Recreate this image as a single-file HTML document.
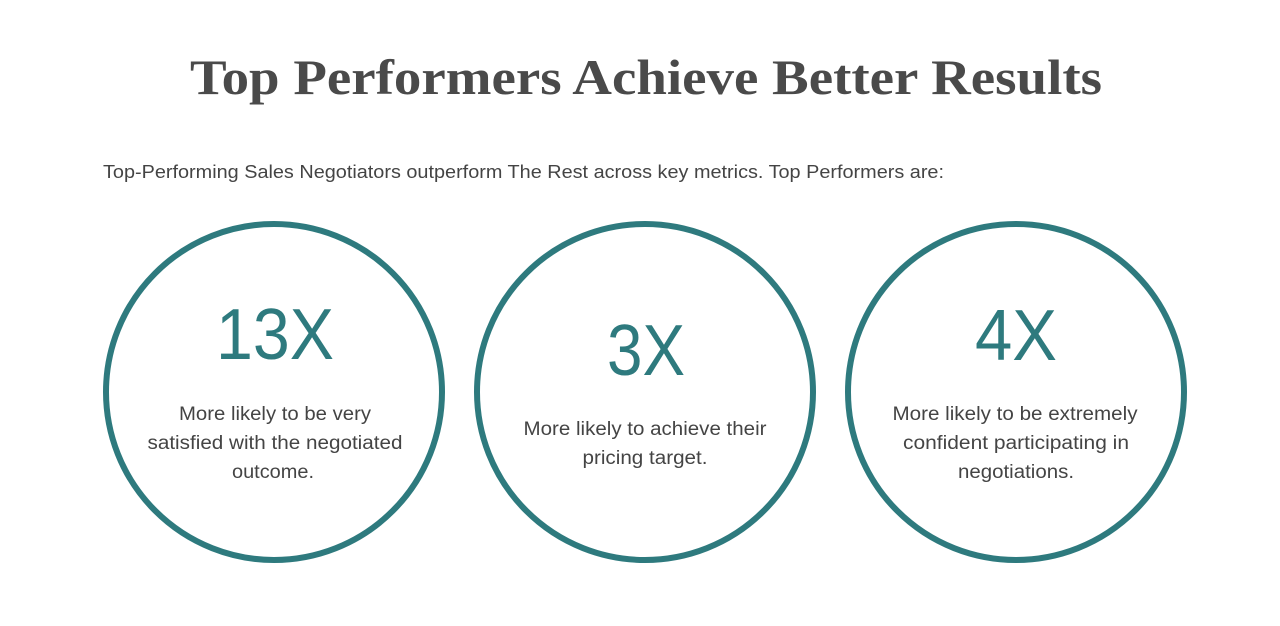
<!DOCTYPE html>
<html><head><style>html,body{margin:0;padding:0;background:#fff;}svg{display:block}</style></head>
<body>
<svg width="1280" height="626" viewBox="0 0 1280 626" xmlns="http://www.w3.org/2000/svg">
<text x="646" y="94" text-anchor="middle" font-family="Liberation Serif, serif" font-weight="bold" font-size="50" fill="#4a4a4a" textLength="912" lengthAdjust="spacingAndGlyphs">Top Performers Achieve Better Results</text>
<text x="103" y="178" font-family="Liberation Sans, sans-serif" font-size="18" fill="#444" textLength="841" lengthAdjust="spacingAndGlyphs">Top-Performing Sales Negotiators outperform The Rest across key metrics. Top Performers are:</text>
<g fill="none" stroke="#2e7a7e" stroke-width="6">
<circle cx="274" cy="392" r="168"/>
<circle cx="645" cy="392" r="168"/>
<circle cx="1016" cy="392" r="168"/>
</g>
<g font-family="Liberation Sans, sans-serif" fill="#2e7a7e" font-size="72" text-anchor="middle">
<text x="275" y="359" textLength="118" lengthAdjust="spacingAndGlyphs">13X</text>
<text x="646" y="375" textLength="78" lengthAdjust="spacingAndGlyphs">3X</text>
<text x="1016" y="360" textLength="82" lengthAdjust="spacingAndGlyphs">4X</text>
</g>
<g font-family="Liberation Sans, sans-serif" fill="#444" font-size="19" text-anchor="middle">
<text x="275" y="420" textLength="192" lengthAdjust="spacingAndGlyphs">More likely to be very</text>
<text x="275" y="449" textLength="255" lengthAdjust="spacingAndGlyphs">satisfied with the negotiated</text>
<text x="273" y="478" textLength="82" lengthAdjust="spacingAndGlyphs">outcome.</text>
<text x="645" y="435" textLength="243" lengthAdjust="spacingAndGlyphs">More likely to achieve their</text>
<text x="645" y="464" textLength="125" lengthAdjust="spacingAndGlyphs">pricing target.</text>
<text x="1015" y="420" textLength="245" lengthAdjust="spacingAndGlyphs">More likely to be extremely</text>
<text x="1016" y="449" textLength="226" lengthAdjust="spacingAndGlyphs">confident participating in</text>
<text x="1016" y="478" textLength="116" lengthAdjust="spacingAndGlyphs">negotiations.</text>
</g>
</svg>
</body></html>
